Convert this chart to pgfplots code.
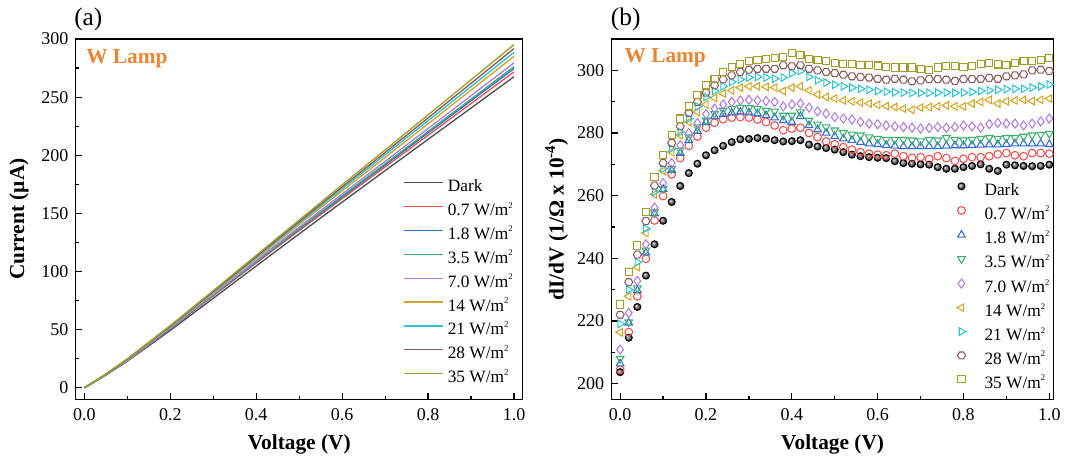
\documentclass[border=0pt]{standalone}
\usepackage{fontspec}
\setmainfont{Liberation Serif}[BoldFont={Liberation Serif Bold}, ItalicFont={Liberation Serif Italic}]
\usepackage{pgfplots}
\usepackage{pgfplotstable}
\pgfplotsset{compat=1.18}
\usetikzlibrary{shadings}

\definecolor{cDk}{HTML}{505050}
\definecolor{cR}{HTML}{F0504F}
\definecolor{cB}{HTML}{2F6BD6}
\definecolor{cG}{HTML}{3DAE72}
\definecolor{cP}{HTML}{B07CE0}
\definecolor{cO}{HTML}{D6A425}
\definecolor{cC}{HTML}{2CC4D2}
\definecolor{cBr}{HTML}{8B5B5B}
\definecolor{cOl}{HTML}{A39E2C}
\definecolor{lamp}{HTML}{EE8432}

\newcommand{\sq}{\raisebox{0.95ex}{\fontsize{6.5}{7}\selectfont 2}}

\pgfdeclareplotmark{hexagon}{%
  \pgfpathmoveto{\pgfpointpolar{0}{\pgfplotmarksize}}%
  \pgfpathlineto{\pgfpointpolar{60}{\pgfplotmarksize}}%
  \pgfpathlineto{\pgfpointpolar{120}{\pgfplotmarksize}}%
  \pgfpathlineto{\pgfpointpolar{180}{\pgfplotmarksize}}%
  \pgfpathlineto{\pgfpointpolar{240}{\pgfplotmarksize}}%
  \pgfpathlineto{\pgfpointpolar{300}{\pgfplotmarksize}}%
  \pgfpathclose\pgfusepathqstroke}

% Panel (a): I-V curves
\pgfplotstableread{
x    d      r      b      g      p      o      c      br     ol
0.00 0      0      0      0      0      0      0      0      0
0.05 10.85  10.96  11.08  11.15  11.28  11.52  11.62  11.75  11.90
0.10 22.92  23.37  23.59  23.65  23.87  24.32  24.47  24.70  24.99
0.20 49.34  50.66  51.05  51.19  51.56  52.36  52.64  53.04  53.56
0.30 76.96  79.08  79.64  79.90  80.47  81.64  82.17  82.78  83.54
0.40 104.75 107.37 108.15 108.59 109.45 111.08 111.95 112.86 113.93
0.50 132.37 135.30 136.35 136.96 138.20 140.38 141.71 142.90 144.31
0.60 159.68 162.75 164.10 164.91 166.59 169.37 171.14 172.71 174.50
0.70 186.77 190.02 191.69 192.69 194.79 198.18 200.44 202.41 204.60
0.80 213.69 217.21 219.27 220.48 222.97 227.03 229.73 232.11 234.69
0.90 240.60 244.47 246.89 248.30 251.22 256.00 259.08 261.85 264.87
1.00 267.56 271.79 274.55 276.21 279.54 285.05 288.53 291.78 295.16
}\tabA

% Panel (b): dI/dV
\pgfplotstableread{
x    d     r     b     g     p     o     c     br    ol
0.00 203.7 204.5 206.4 208.0 210.9 216.4 219.1 222.0 225.3
0.02 214.7 216.5 219.4 219.7 222.6 227.9 230.0 232.4 235.6
0.04 224.5 227.9 229.8 230.5 232.8 237.2 238.8 241.2 244.1
0.06 234.5 239.9 241.8 242.6 244.5 248.1 249.5 251.9 254.8
0.08 244.5 252.1 254.3 254.8 256.2 260.4 261.2 263.2 266.0
0.10 252.0 259.9 262.1 262.2 264.0 267.9 268.6 270.4 272.9
0.12 258.0 266.8 268.1 268.6 270.4 273.9 275.0 276.8 279.3
0.14 263.1 272.0 273.6 274.5 276.1 279.3 280.3 282.1 284.6
0.16 267.2 275.9 277.7 278.7 280.0 283.5 284.6 286.4 288.5
0.18 270.2 278.9 280.6 281.9 283.2 286.7 288.5 289.9 292.2
0.20 272.9 281.7 283.5 284.0 286.0 289.1 291.5 292.9 295.2
0.22 274.5 283.3 285.3 286.2 287.8 291.2 293.4 295.2 297.3
0.24 275.9 284.4 286.0 287.2 289.1 292.6 294.9 297.1 299.5
0.26 277.1 284.9 286.4 287.8 289.9 293.6 296.3 298.4 301.1
0.28 278.0 285.1 286.7 288.1 290.4 294.5 297.1 299.5 302.1
0.30 278.1 284.9 286.5 288.0 290.6 294.9 297.7 300.2 303.0
0.32 278.4 284.3 286.2 287.8 290.4 294.9 297.9 300.5 303.4
0.34 278.2 283.5 285.6 287.2 290.2 294.7 297.7 300.5 303.7
0.36 277.7 282.4 284.9 286.9 289.9 294.5 297.3 300.5 304.0
0.38 277.3 280.9 284.0 285.6 288.5 293.4 297.7 301.6 304.3
0.40 277.4 281.4 283.5 285.6 289.1 294.5 299.1 301.3 305.6
0.42 277.7 281.7 285.3 286.7 289.4 294.9 299.8 301.6 305.0
0.44 276.3 280.0 282.4 284.0 288.1 293.6 297.9 300.5 303.6
0.46 275.7 278.7 281.1 282.8 286.9 292.3 296.8 300.0 303.2
0.48 275.2 277.3 280.0 281.9 286.2 291.5 296.1 299.5 303.0
0.50 274.7 276.4 278.9 280.9 285.1 291.0 295.4 299.1 302.4
0.52 273.9 275.5 278.2 280.1 284.6 290.4 294.9 298.6 302.1
0.54 273.1 274.7 277.7 279.6 284.3 290.1 294.5 298.1 302.1
0.56 272.6 273.9 277.1 279.3 283.5 289.7 294.1 297.9 301.6
0.58 272.3 273.4 276.6 278.7 283.0 289.4 293.8 297.7 301.6
0.60 272.1 273.1 276.4 278.2 282.8 289.0 293.4 297.3 301.5
0.62 272.0 272.9 276.1 277.9 282.4 288.6 293.2 297.0 301.1
0.64 271.0 273.4 275.9 277.9 282.1 288.3 293.0 297.3 300.9
0.66 270.4 272.6 275.7 277.9 281.9 287.8 292.9 297.0 300.9
0.68 270.2 272.1 275.7 277.7 281.7 287.4 292.8 296.5 300.9
0.70 270.0 272.3 275.7 277.4 281.4 288.1 292.8 296.8 300.5
0.72 269.9 271.7 275.7 277.9 281.6 288.3 292.8 297.2 300.2
0.74 269.1 272.6 275.7 277.7 281.9 288.5 292.9 297.2 300.9
0.76 268.6 272.0 275.9 278.5 281.7 288.8 292.9 297.0 301.3
0.78 268.6 271.1 276.0 277.9 281.9 288.5 292.8 296.6 301.3
0.80 269.1 271.8 276.0 277.7 282.4 288.5 292.9 297.2 301.1
0.82 269.5 272.3 276.1 277.9 282.1 289.4 293.1 297.2 301.3
0.84 270.0 272.3 276.2 278.2 281.7 289.9 293.4 297.3 302.1
0.86 268.6 272.6 276.3 278.5 282.8 290.6 293.6 297.6 302.3
0.88 267.9 273.2 276.3 278.2 283.2 289.4 293.8 297.3 301.9
0.90 269.9 273.6 276.4 278.5 283.0 290.1 294.0 298.1 301.6
0.92 269.7 272.9 276.6 278.5 283.0 290.4 294.1 298.4 302.3
0.94 269.5 272.6 276.6 278.9 282.4 290.6 294.1 298.7 303.0
0.96 269.4 273.6 276.6 279.3 283.0 290.2 294.5 300.0 302.9
0.98 269.5 273.6 276.6 279.5 283.7 290.6 294.9 300.2 303.4
1.00 269.9 273.4 276.4 279.8 284.6 291.0 295.5 299.8 304.0
}\tabB

\pgfplotsset{
  panel/.style={
    scale only axis,
    clip=false,
    axis line style={line width=1pt},
    tick align=inside,
    tick pos=left,
    major tick length=4.5pt,
    minor tick length=2.5pt,
    every tick/.style={black, line width=0.9pt},
    tick label style={font=\rmfamily\fontsize{13.5}{15}\selectfont},
    /pgf/number format/assume math mode=true,
    xticklabel style={yshift=-3pt, /pgf/number format/.cd, fixed, fixed zerofill, precision=1},
    yticklabel style={xshift=-2pt, /pgf/number format/.cd, fixed, precision=0},
    xtick={0,0.2,0.4,0.6,0.8,1.0},
    minor xtick={0.1,0.3,0.5,0.7,0.9},
    label style={font=\rmfamily\bfseries\fontsize{16}{18}\selectfont},
    xlabel style={at={(axis description cs:0.5,-0.125)}, anchor=center},
    legend cell align=left,
  },
}

\begin{document}
\begin{tikzpicture}[x=1pt,y=1pt]
\path (0,0) rectangle (798.75,344.25);

% ---------------- (a) ----------------
\begin{axis}[panel,
  at={(56.85pt,44.6pt)}, anchor=south west,
  width=335.2pt, height=270.4pt,
  xmin=-0.02, xmax=1.02, ymin=-10, ymax=300,
  ytick={0,50,100,150,200,250,300},
  minor ytick={25,75,125,175,225,275},
  xlabel={Voltage (V)},
  ylabel={Current (µA)},
  ylabel style={at={(axis description cs:-0.127,0.5)}, anchor=center},
  no markers,
  legend image code/.code={\draw[#1] (0pt,3.5pt) -- (29pt,3.5pt);},
  legend style={draw=none, fill=none, inner sep=0pt,
    at={(axis description cs:0.733,0.612)}, anchor=north west,
    font=\fontsize{13}{15}\selectfont,
    nodes={inner sep=0pt, text height=9.5pt, text depth=3pt},
    row sep=5.4pt, column sep=3.2pt},
]
\addplot[cDk, line width=1pt] table[x=x,y=d] {\tabA};
\addlegendentry{Dark}
\addplot[cR, line width=1pt] table[x=x,y=r] {\tabA};
\addlegendentry{0.7 W/m\sq}
\addplot[cB, line width=1pt] table[x=x,y=b] {\tabA};
\addlegendentry{1.8 W/m\sq}
\addplot[cG, line width=1pt] table[x=x,y=g] {\tabA};
\addlegendentry{3.5 W/m\sq}
\addplot[cP, line width=1pt] table[x=x,y=p] {\tabA};
\addlegendentry{7.0 W/m\sq}
\addplot[cO, line width=1pt] table[x=x,y=o] {\tabA};
\addlegendentry{14 W/m\sq}
\addplot[cC, line width=1pt] table[x=x,y=c] {\tabA};
\addlegendentry{21 W/m\sq}
\addplot[cBr, line width=1pt] table[x=x,y=br] {\tabA};
\addlegendentry{28 W/m\sq}
\addplot[cOl, line width=1pt] table[x=x,y=ol] {\tabA};
\addlegendentry{35 W/m\sq}
\node[anchor=west, inner sep=0pt, font=\fontsize{19}{21}\selectfont] at (axis description cs:-0.004,1.055) {(a)};
\node[anchor=west, inner sep=0pt, text=lamp, font=\bfseries\fontsize{16}{18}\selectfont] at (axis description cs:0.023,0.945) {W Lamp};
\end{axis}

% ---------------- (b) ----------------
\begin{axis}[panel,
  at={(458.8pt,44.6pt)}, anchor=south west,
  width=331.6pt, height=270.4pt,
  xmin=-0.02, xmax=1.01, ymin=195, ymax=310,
  ytick={200,220,240,260,280,300},
  minor ytick={210,230,250,270,290},
  xlabel={Voltage (V)},
  ylabel={dI/dV (1/Ω x 10\textsuperscript{-4})},
  ylabel style={at={(axis description cs:-0.124,0.5)}, anchor=center},
  legend image code/.code={\draw[mark repeat=2,mark phase=2,#1] plot coordinates {(0pt,3.5pt) (6pt,3.5pt) (12pt,3.5pt)};},
  legend style={draw=none, fill=none, inner sep=0pt,
    at={(axis description cs:0.781,0.603)}, anchor=north west,
    font=\fontsize{13}{15}\selectfont,
    nodes={inner sep=0pt, text height=9.5pt, text depth=3pt},
    row sep=5.4pt, column sep=14pt},
  every axis plot/.append style={only marks, line width=0.8pt},
]
\addplot[mark=ball, ball color=black!55, mark size=2.6pt] table[x=x,y=d] {\tabB};
\addlegendentry{Dark}
\addplot[cR, mark=o, mark size=2.9pt] table[x=x,y=r] {\tabB};
\addlegendentry{0.7 W/m\sq}
\addplot[cB, mark=triangle, mark size=3.3pt] table[x=x,y=b] {\tabB};
\addlegendentry{1.8 W/m\sq}
\addplot[cG, mark=triangle, mark size=3.3pt, mark options={rotate=180}] table[x=x,y=g] {\tabB};
\addlegendentry{3.5 W/m\sq}
\addplot[cP, mark=diamond, mark size=3.4pt] table[x=x,y=p] {\tabB};
\addlegendentry{7.0 W/m\sq}
\addplot[cO, mark=triangle, mark size=3.3pt, mark options={rotate=90}] table[x=x,y=o] {\tabB};
\addlegendentry{14 W/m\sq}
\addplot[cC, mark=triangle, mark size=3.3pt, mark options={rotate=-90}] table[x=x,y=c] {\tabB};
\addlegendentry{21 W/m\sq}
\addplot[cBr, mark=hexagon, mark size=3.0pt] table[x=x,y=br] {\tabB};
\addlegendentry{28 W/m\sq}
\addplot[cOl, mark=square, mark size=2.7pt] table[x=x,y=ol] {\tabB};
\addlegendentry{35 W/m\sq}
\node[anchor=west, inner sep=0pt, font=\fontsize{19}{21}\selectfont] at (axis description cs:-0.002,1.054) {(b)};
\node[anchor=west, inner sep=0pt, text=lamp, font=\bfseries\fontsize{16}{18}\selectfont] at (axis description cs:0.029,0.948) {W Lamp};
\end{axis}
\end{tikzpicture}
\end{document}
